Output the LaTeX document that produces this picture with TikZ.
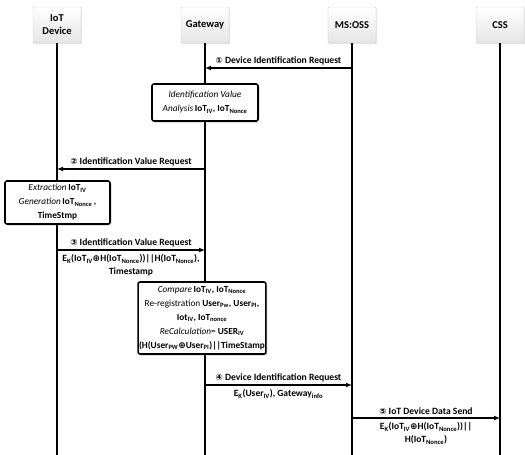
\documentclass[tikz,border=0pt]{standalone}
\usepackage{fontspec}
\setmainfont{Carlito}
\newfontfamily\symfont{DejaVu Sans}
\usetikzlibrary{shadows}
\usetikzlibrary{arrows.meta}

\newcommand{\dn}[1]{\textsubscript{#1}}
\newcommand{\circnum}[1]{{\symfont\fontsize{8.5}{8.5}\selectfont #1}}
\newcommand{\xo}{{\symfont\fontsize{9}{9}\selectfont ⊕}}

\tikzset{
  actor/.style={draw=gray!40, top color=white, bottom color=gray!20,
    minimum width=48pt, minimum height=36pt, align=center, rounded corners=1pt,
    font=\fontsize{10.5}{13}\selectfont\bfseries,
    drop shadow={opacity=0.2, shadow xshift=1.2pt, shadow yshift=-1.2pt}},
  lifeline/.style={line width=1.4pt},
  procbox/.style={draw, line width=1.6pt, fill=white, rounded corners=2pt,
    align=center, inner xsep=1pt, inner ysep=2pt,
    font=\fontsize{9.3}{14}\selectfont,
    drop shadow={opacity=0.35, shadow xshift=1.5pt, shadow yshift=-1.5pt}},
  msg/.style={line width=1.7pt, -{Latex[length=6pt,width=5pt]}},
  msglabel/.style={font=\fontsize{9.6}{11}\selectfont\bfseries, above=1.5pt, inner sep=1pt},
  msgdata/.style={font=\fontsize{9.5}{13}\selectfont\bfseries, align=center, below=3pt, inner sep=1pt}
}

\begin{document}
\begin{tikzpicture}[x=1pt,y=-1pt]
    \useasboundingbox (0,0) rectangle (525,455);

    % participants
    \node[actor] (iot) at (57,25) {IoT\\Device};
    \node[actor] (gw)  at (205,25) {Gateway};
    \node[actor] (oss) at (352,25) {MS:OSS};
    \node[actor] (css) at (500,25) {CSS};

    \coordinate (iotb) at (57,455);
    \coordinate (gwb)  at (205,455);
    \coordinate (ossb) at (352,455);
    \coordinate (cssb) at (500,455);

    \draw[lifeline] (iot) -- (iotb);
    \draw[lifeline] (gw) -- (gwb);
    \draw[lifeline] (oss) -- (ossb);
    \draw[lifeline] (css) -- (cssb);

    % message 1
    \coordinate (m1a) at (352,68);
    \coordinate (m1b) at (205,68);
    \draw[msg] (m1a) -- (m1b) node[msglabel, midway] (l1) {\circnum{①} Device Identification Request};

    \node[procbox, minimum width=106pt, minimum height=37pt] (analysis) at (205,102.5)
        {\textit{Identification Value}\\\textit{Analysis}\,\textbf{IoT\dn{IV}, IoT\dn{Nonce}}};

    % message 2
    \coordinate (m2a) at (205,169);
    \coordinate (m2b) at (57,169);
    \draw[msg] (m2a) -- (m2b) node[msglabel, midway] (l2) {\circnum{②} Identification Value Request};

    \node[procbox, minimum width=105pt, minimum height=43pt] (gen) at (57.5,202.5)
        {\textit{Extraction}\,\textbf{IoT\dn{IV}}\\
         \textit{Generation}\,\textbf{IoT\dn{Nonce}\,,}\\
         \textbf{TimeStmp}};

    % message 3
    \coordinate (m3a) at (57,250);
    \coordinate (m3b) at (205,250);
    \draw[msg] (m3a) -- (m3b) node[msglabel, midway] (l3) {\circnum{③} Identification Value Request}
        node[msgdata, midway] (d3) {E\dn{K}(IoT\dn{IV}\xo H(IoT\dn{Nonce}))\textbar\textbar H(IoT\dn{Nonce}),\\Timestamp};

    \node[procbox, minimum width=124pt, minimum height=72pt] (check) at (202,318)
        {\textit{Compare}\,\textbf{IoT\dn{IV}, IoT\dn{Nonce}}\\
         Re-registration \textbf{User\dn{Pw}, User\dn{PI},}\\
         \textbf{Iot\dn{IV}, IoT\dn{nonce}}\\
         \textit{ReCalculation}= \textbf{USER\dn{IV}}\\
         \textbf{(H(User\dn{PW}\xo User\dn{PI})\textbar\textbar TimeStamp}};

    % message 4
    \coordinate (m4a) at (205,385);
    \coordinate (m4b) at (352,385);
    \draw[msg] (m4a) -- (m4b) node[msglabel, midway] (l4) {\circnum{④} Device Identification Request}
        node[msgdata, midway] (d4) {E\dn{K}(User\dn{IV}), Gateway\dn{info}};

    % message 5
    \coordinate (m5a) at (352,418);
    \coordinate (m5b) at (500,418);
    \draw[msg] (m5a) -- (m5b) node[msglabel, midway] (l5) {\circnum{⑤} IoT Device Data Send}
        node[msgdata, midway] (d5) {E\dn{K}(IoT\dn{IV}\xo H(IoT\dn{Nonce}))\textbar\textbar\\H(IoT\dn{Nonce})};
\end{tikzpicture}
\end{document}
